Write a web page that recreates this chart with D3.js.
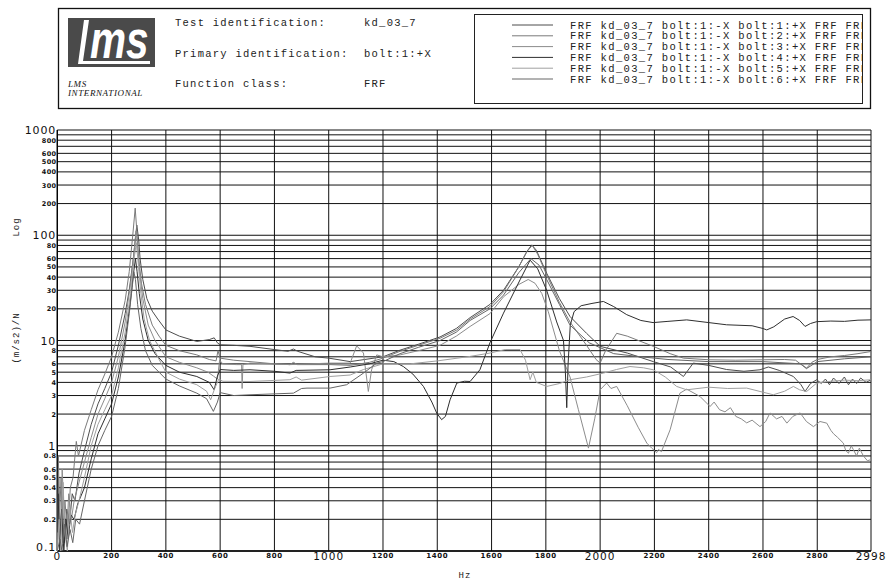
<!DOCTYPE html>
<html><head><meta charset="utf-8">
<script src="https://cdn.jsdelivr.net/npm/d3@7"></script>
<style>body{margin:0;background:#fff}svg{display:block}</style>
</head><body><svg id="c" width="887" height="580"></svg>
<script>
// ---------------- data ----------------
const headerLabels = ["Test identification:", "Primary identification:", "Function class:"];
const headerValues = ["kd_03_7", "bolt:1:+X", "FRF"];
const legendLabels = [
  "FRF kd_03_7 bolt:1:-X bolt:1:+X FRF FRF",
  "FRF kd_03_7 bolt:1:-X bolt:2:+X FRF FRF",
  "FRF kd_03_7 bolt:1:-X bolt:3:+X FRF FRF",
  "FRF kd_03_7 bolt:1:-X bolt:4:+X FRF FRF",
  "FRF kd_03_7 bolt:1:-X bolt:5:+X FRF FRF",
  "FRF kd_03_7 bolt:1:-X bolt:6:+X FRF FRF"
];
const xTicks = [0, 200, 400, 600, 800, 1000, 1200, 1400, 1600, 1800, 2000, 2200, 2400, 2600, 2800, 2998];
const xBigTicks = [0, 1000, 2000, 2998];
const yMajor = [0.1, 1, 10, 100, 1000];
const yMinorLabelled = [0.2, 0.3, 0.4, 0.5, 0.6, 0.8, 2, 3, 4, 5, 6, 8, 20, 30, 40, 50, 60, 80, 200, 300, 400, 500, 600, 800];
const yMinorLabelText = ["0.2","0.3","0.4","0.5","0.6","0.8","2","3","4","5","6","8","20","30","40","50","60","80","200","300","400","500","600","800"];

// series: [frequency Hz, magnitude (m/s2)/N]
const seriesA = [[0,0.12],[5,0.5],[10,0.15],[18,0.3],[25,0.12],[35,0.25],[45,0.18],[55,0.35],[65,0.3],[80,0.55],[100,0.9],[125,1.6],[150,2.5],[175,3.5],[200,5],[225,9],[250,18],[265,30],[280,60],[293,125],[300,90],[305,60],[315,38],[330,25],[350,19],[370,16],[400,12.6],[450,11],[514,9.8],[560,10.2],[578,10.6],[590,9.5],[600,9.1],[650,9.0],[710,8.8],[800,8.2],[850,7.9],[870,8.3],[885,7.9],[950,7.0],[1000,6.8],[1079,6.3],[1115,6.5],[1200,7.0],[1263,8.1],[1330,9.2],[1410,10.8],[1470,13],[1521,16.5],[1594,22],[1644,30],[1700,50],[1730,70],[1748,81],[1765,72],[1803,43.6],[1850,25],[1889,16.9],[1950,11.7],[2000,8.8],[2100,7.6],[2196,6.3],[2260,5.6],[2307,4.55],[2343,6.1],[2400,5.8],[2466,5.3],[2530,5.1],[2589,5.27],[2620,5.6],[2660,5.2],[2712,4.55],[2740,3.8],[2755,3.28],[2775,3.9],[2798,4.24],[2815,3.9],[2830,4.3],[2845,3.8],[2860,4.4],[2880,3.9],[2900,4.5],[2915,3.8],[2930,4.3],[2945,3.9],[2960,4.4],[2980,4.0],[2998,4.24]];
const seriesB = [[0,0.1],[4,0.8],[8,0.2],[14,0.5],[20,0.12],[28,0.3],[38,0.15],[48,0.4],[58,0.5],[70,1.1],[78,0.8],[100,1.4],[125,2.2],[150,3.4],[175,4.8],[200,7],[225,12],[250,24],[265,45],[278,100],[287,181],[293,110],[300,60],[310,35],[325,22],[350,14],[375,11],[400,9.0],[450,8.0],[514,7.3],[560,6.6],[585,6.4],[592,8.0],[600,6.8],[650,6.5],[710,6.3],[800,6.0],[857,5.9],[870,6.2],[885,5.9],[1005,5.9],[1079,5.8],[1150,6.2],[1200,6.8],[1263,7.9],[1330,9.0],[1410,10.5],[1470,12.5],[1521,16],[1594,21],[1644,29],[1700,50],[1730,70],[1750,80],[1770,66],[1803,42],[1850,23],[1889,15],[1950,9],[1985,6.6],[2000,6.1],[2020,8],[2061,11.7],[2100,11],[2196,8.8],[2258,7.5],[2307,6.8],[2405,6.55],[2500,6.5],[2589,6.55],[2680,6.6],[2720,6.5],[2745,5.8],[2761,5.47],[2780,6.2],[2800,6.6],[2850,7.0],[2900,7.2],[2950,7.5],[2998,7.86]];
const seriesC = [[0,0.1],[6,0.3],[12,0.11],[18,0.6],[26,0.2],[34,0.13],[42,0.35],[52,0.2],[62,0.3],[75,0.4],[100,0.7],[125,1.2],[150,2],[175,2.8],[200,4],[225,7],[250,15],[270,35],[283,70],[290,110],[296,80],[303,45],[315,25],[335,14],[360,10],[400,7.0],[450,6.2],[514,5.5],[555,5.0],[575,4.6],[590,4.3],[598,6.5],[610,6.0],[660,5.9],[679,5.9],[681,3.5],[684,5.9],[710,6.1],[857,5.9],[1005,6.1],[1079,6.1],[1103,8.9],[1128,7.6],[1146,3.28],[1158,5.27],[1177,7.3],[1200,7.0],[1263,7.3],[1330,8],[1410,9],[1470,11],[1521,13.6],[1594,18],[1644,26],[1700,34],[1735,38],[1760,35],[1785,28],[1809,18.8],[1850,8],[1889,4.5],[1920,2.2],[1957,0.95],[1980,1.8],[2000,3.4],[2024,3.94],[2040,3.5],[2061,3.66],[2100,2.4],[2140,1.5],[2172,1.06],[2190,0.95],[2200,0.9],[2208,0.86],[2215,0.92],[2226,0.88],[2258,1.42],[2294,3.16],[2319,3.45],[2368,2.94],[2405,2.36],[2420,2.6],[2440,2.2],[2460,2.1],[2480,2.3],[2500,1.9],[2520,1.8],[2540,1.65],[2560,1.75],[2589,1.52],[2610,1.7],[2626,2.05],[2650,1.8],[2670,1.9],[2688,1.64],[2710,1.9],[2737,2.05],[2760,1.7],[2786,1.52],[2810,1.7],[2835,1.64],[2850,1.4],[2860,1.3],[2875,1.2],[2896,1.06],[2905,0.9],[2915,0.85],[2925,1.0],[2933,0.92],[2945,0.8],[2955,0.95],[2970,0.8],[2985,0.72],[2998,0.74]];
const seriesD = [[0,0.15],[3,0.35],[9,0.1],[16,0.25],[24,0.1],[32,0.2],[40,0.13],[50,0.22],[62,0.2],[75,0.28],[100,0.4],[125,0.75],[150,1.3],[175,1.8],[200,2.5],[225,4.5],[250,10],[268,22],[280,42],[288,60],[294,45],[302,28],[315,16],[335,10],[360,7.5],[400,5.8],[450,5.0],[514,4.55],[560,4.0],[578,3.4],[590,4.6],[600,5.3],[650,5.2],[710,5.27],[800,5.1],[857,4.9],[880,5.2],[1005,5.27],[1079,5.6],[1150,6.0],[1200,6.5],[1240,6.3],[1275,5.66],[1310,4.8],[1349,3.66],[1380,2.6],[1398,2.04],[1416,1.77],[1430,1.9],[1447,2.73],[1472,3.94],[1500,4.1],[1521,4.08],[1557,5.27],[1594,9.5],[1644,18.2],[1705,37.7],[1742,58],[1770,48],[1803,30],[1840,15],[1865,10],[1872,5],[1877,2.3],[1882,6],[1890,14],[1904,18.8],[1930,21.4],[1970,22.5],[2012,23.5],[2050,21],[2098,17.6],[2150,15.5],[2195,14.8],[2250,15.2],[2319,15.7],[2400,14.8],[2466,14.1],[2560,13.8],[2600,13],[2614,12.6],[2640,13.5],[2680,16],[2711,16.9],[2735,15.5],[2755,13.6],[2775,14.5],[2798,15.1],[2850,15.3],[2900,15.2],[2950,15.6],[2998,15.7]];
const seriesE = [[0,0.1],[7,0.2],[13,0.1],[21,0.45],[29,0.14],[37,0.1],[46,0.25],[56,0.15],[66,0.22],[80,0.3],[100,0.5],[125,1.0],[150,1.6],[175,2.2],[200,3],[225,5.5],[250,12],[270,28],[283,60],[291,85],[298,55],[308,28],[320,16],[340,10],[370,7],[400,5.0],[450,4.3],[514,3.8],[550,3.3],[565,2.73],[580,3.5],[595,4.3],[610,4.1],[710,4.08],[857,4.24],[880,4.5],[900,4.2],[1005,4.55],[1079,4.7],[1128,5.3],[1200,6.0],[1300,6.0],[1400,6.4],[1521,7.06],[1594,7.6],[1650,8.2],[1705,8.2],[1725,6.5],[1742,4.24],[1752,5.0],[1765,4.0],[1803,3.66],[1850,3.9],[1889,4.24],[1950,4.5],[2012,4.9],[2060,5.3],[2110,5.66],[2160,5.5],[2196,5.27],[2240,4.5],[2282,3.66],[2319,3.4],[2400,3.6],[2470,3.5],[2540,3.53],[2589,3.28],[2638,3.05],[2680,3.3],[2712,3.66],[2735,3.4],[2761,3.28],[2798,3.94],[2850,4.1],[2900,4.2],[2950,4.15],[2998,4.24]];
const seriesF = [[0,0.1],[10,0.13],[17,0.1],[27,0.18],[36,0.11],[47,0.16],[57,0.12],[68,0.2],[82,0.18],[100,0.3],[125,0.6],[150,1.0],[175,1.4],[200,1.9],[225,3.5],[250,8.8],[265,18],[276,32],[282,45],[288,38],[296,22],[308,13],[325,8],[350,5.8],[400,4.3],[450,3.7],[514,3.16],[550,2.8],[575,2.12],[590,2.6],[600,3.2],[650,3.0],[710,3.05],[870,3.16],[900,3.5],[920,3.53],[1005,3.53],[1066,3.8],[1128,4.9],[1177,6.1],[1200,6.3],[1263,7.5],[1330,8.6],[1410,10],[1470,12],[1521,15.5],[1594,20],[1644,27],[1700,44],[1745,60],[1775,52],[1803,38],[1850,22],[1889,14],[1960,9.5],[2050,7.5],[2150,7],[2250,6.6],[2400,6.3],[2600,6.3],[2740,6.0],[2760,5.4],[2800,6.3],[2900,6.7],[2998,7.0]];
const allSeries = [seriesA, seriesB, seriesC, seriesD, seriesE, seriesF];
const seriesColors = ["#4d4d4d", "#7a7a7a", "#8c8c8c", "#2e2e2e", "#a0a0a0", "#666666"];

// ---------------- drawing ----------------
const svg = d3.select("#c");
const mono = "'Liberation Mono','DejaVu Sans Mono',monospace";
const sans = "'DejaVu Sans',sans-serif";

const x = d3.scaleLinear().domain([0, 2998]).range([57.3, 871]);
const y = d3.scaleLog().domain([0.1, 1000]).range([551, 130]);

// header box
svg.append("rect").attr("x", 58.5).attr("y", 8.5).attr("width", 812).attr("height", 100)
  .attr("fill", "none").attr("stroke", "#111").attr("stroke-width", 1.3);

// logo
const logo = svg.append("g");
logo.append("rect").attr("x", 68).attr("y", 18).attr("width", 87).attr("height", 49).attr("fill", "#4a4a4a");
logo.append("path").attr("d", "M84,20 L89,20 L83,61 L150,61 L150,64 L78,64 Z").attr("fill", "#fff");
logo.append("text").attr("transform", "translate(90,58) scale(0.78,1.05)")
  .attr("font-family", "'Liberation Sans',Arial,sans-serif").attr("font-weight", "bold")
  .attr("font-style", "italic").attr("font-size", 52).attr("fill", "#fff").text("ms");
logo.append("text").attr("x", 68).attr("y", 87).attr("font-family", "'Liberation Serif',serif")
  .attr("font-style", "italic").attr("font-size", 9).attr("letter-spacing", 0.6).attr("fill", "#111").text("LMS");
logo.append("text").attr("x", 68).attr("y", 96).attr("font-family", "'Liberation Serif',serif")
  .attr("font-style", "italic").attr("font-size", 9).attr("letter-spacing", 0.6).attr("fill", "#111").text("INTERNATIONAL");

const hdrY = [26, 57, 87];
headerLabels.forEach((t, i) => {
  svg.append("text").attr("x", 175).attr("y", hdrY[i]).attr("font-family", mono).attr("font-size", 10.5)
    .attr("letter-spacing", 1.25).attr("fill", "#222").text(t);
  svg.append("text").attr("x", 364).attr("y", hdrY[i]).attr("font-family", mono).attr("font-size", 10.5)
    .attr("letter-spacing", 1.25).attr("fill", "#222").text(headerValues[i]);
});

// legend box
svg.append("defs").append("clipPath").attr("id", "legclip").append("rect")
  .attr("x", 474).attr("y", 14).attr("width", 388).attr("height", 90);
svg.append("rect").attr("x", 474.5).attr("y", 14.5).attr("width", 388).attr("height", 89)
  .attr("fill", "none").attr("stroke", "#222").attr("stroke-width", 1);
const legRowY = [25, 35.8, 46.6, 57.4, 68.2, 79];
const leg = svg.append("g").attr("clip-path", "url(#legclip)");
legendLabels.forEach((t, i) => {
  leg.append("line").attr("x1", 512).attr("x2", 553).attr("y1", legRowY[i]).attr("y2", legRowY[i])
    .attr("stroke", seriesColors[i]).attr("stroke-width", 1);
  leg.append("text").attr("x", 570).attr("y", legRowY[i] + 3.5).attr("font-family", mono).attr("font-size", 10.5)
    .attr("letter-spacing", 1.35).attr("fill", "#222").text(t);
});

// grid
const grid = svg.append("g");
const hVals = [];
for (let e = -1; e < 3; e++) for (let m = 1; m <= 9; m++) hVals.push(m * Math.pow(10, e));
hVals.push(1000);
grid.selectAll("line.h").data(hVals).enter().append("line")
  .attr("x1", x(0)).attr("x2", x(2998)).attr("y1", d => y(d)).attr("y2", d => y(d))
  .attr("stroke", "#111").attr("stroke-width", 1);
grid.selectAll("line.v").data(xTicks).enter().append("line")
  .attr("x1", d => x(d)).attr("x2", d => x(d)).attr("y1", y(1000)).attr("y2", y(0.1))
  .attr("stroke", "#111").attr("stroke-width", 1);
svg.append("line").attr("x1", x(0)).attr("x2", x(2998)).attr("y1", y(0.1)).attr("y2", y(0.1))
  .attr("stroke", "#000").attr("stroke-width", 1.3);
svg.append("line").attr("x1", x(0)).attr("x2", x(0)).attr("y1", y(1000)).attr("y2", y(0.1))
  .attr("stroke", "#000").attr("stroke-width", 1.3);

// curves
svg.append("defs").append("clipPath").attr("id", "plotclip").append("rect")
  .attr("x", x(0)).attr("y", y(1000)).attr("width", x(2998) - x(0)).attr("height", y(0.1) - y(1000));
const line = d3.line().x(d => x(d[0])).y(d => y(Math.max(d[1], 0.05)));
const curves = svg.append("g").attr("clip-path", "url(#plotclip)");
allSeries.forEach((s, i) => {
  curves.append("path").attr("d", line(s)).attr("fill", "none")
    .attr("stroke", seriesColors[i]).attr("stroke-width", 1);
});

// x tick labels
xTicks.forEach(v => {
  const big = xBigTicks.includes(v);
  svg.append("text").attr("x", x(v)).attr("y", big ? 560 : 558).attr("text-anchor", "middle")
    .attr("font-family", sans).attr("font-size", big ? 10.5 : 7).attr("font-weight", big ? "normal" : "bold")
    .attr("letter-spacing", big ? 1 : 0.6).attr("fill", "#111").text(v);
});
// y tick labels
yMajor.forEach(v => {
  const dy = v === 0.1 ? -0.5 : 4;
  svg.append("text").attr("x", 56).attr("y", y(v) + dy).attr("text-anchor", "end")
    .attr("font-family", sans).attr("font-size", 11).attr("letter-spacing", 0.8).attr("fill", "#111")
    .text(v);
});
yMinorLabelled.forEach((v, i) => {
  svg.append("text").attr("x", 56.5).attr("y", y(v) + 2.5).attr("text-anchor", "end")
    .attr("font-family", sans).attr("font-size", 6.5).attr("font-weight", "bold").attr("letter-spacing", 0.4)
    .attr("fill", "#111").text(yMinorLabelText[i]);
});

// axis titles
svg.append("text").attr("transform", "translate(19,227) rotate(-90)").attr("text-anchor", "middle")
  .attr("font-family", mono).attr("font-size", 9).attr("letter-spacing", 1).attr("fill", "#222").text("Log");
svg.append("text").attr("transform", "translate(19,338) rotate(-90)").attr("text-anchor", "middle")
  .attr("font-family", mono).attr("font-size", 9).attr("letter-spacing", 1).attr("fill", "#222").text("(m/s2)/N");
svg.append("text").attr("x", 465).attr("y", 578).attr("text-anchor", "middle")
  .attr("font-family", mono).attr("font-size", 9).attr("letter-spacing", 1).attr("fill", "#222").text("Hz");
</script>
</body></html>
